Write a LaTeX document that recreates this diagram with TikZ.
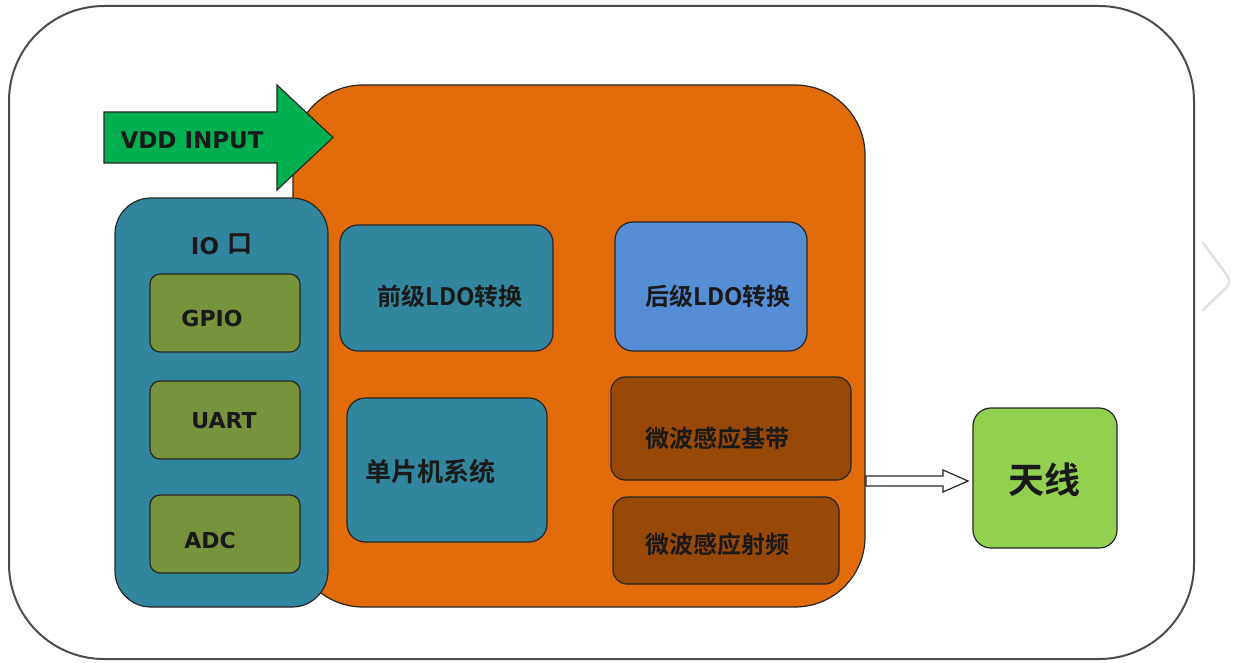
\documentclass[tikz,border=0pt]{standalone}
\usepackage{fontspec}
\setmainfont{Noto Sans CJK SC}[BoldFont={* Bold}]
\newfontfamily\latinbold{DejaVu Sans}
\definecolor{orangeC}{HTML}{E36C0A}
\definecolor{tealC}{HTML}{31859C}
\definecolor{oliveC}{HTML}{77933C}
\definecolor{blueC}{HTML}{558ED5}
\definecolor{brownC}{HTML}{984807}
\definecolor{antC}{HTML}{92D050}
\definecolor{arrowC}{HTML}{00B050}
\tikzset{
  blk/.style={draw=black!85, line width=1.2pt, rounded corners=#1},
  blk/.default=14pt,
  lbl/.style={font=\bfseries\fontsize{24}{26}\selectfont, text=black!90},
  lat/.style={font=\latinbold\bfseries\fontsize{#1}{#1}\selectfont, text=black!90},
}
\begin{document}
\begin{tikzpicture}[x=1pt,y=-1pt]
\useasboundingbox (0,0) rectangle (1241,663);
\fill[white] (0,0) rectangle (1241,663);
% outer frame
\draw[line width=2pt, black!70, rounded corners=95pt] (9,6) rectangle (1194,659);
% chevron
\draw[line width=2.5pt, black!12, line cap=round, rounded corners=8pt] (1203,243) -- (1232,282) -- (1203,310);
% orange main block
\draw[blk=70pt, fill=orangeC] (293,85) rectangle (865,607);
% VDD input arrow
\draw[draw=black!85, line width=1.2pt, fill=arrowC] (104,112) -- (277,112) -- (277,85) -- (333,137.5) -- (277,190) -- (277,163) -- (104,163) -- cycle;
\node[lat=23, anchor=west] (vddt) at (117,140) {VDD INPUT};
% IO block
\draw[blk=36pt, fill=tealC] (115,198) rectangle (328,607);
\node[lat=23] (io) at (205,246) {IO};
\node[lbl, font=\bfseries\fontsize{25}{27}\selectfont] (kou) at (240,244) {口};
\draw[blk=10pt, fill=oliveC] (150,274) rectangle (300,352);
\node[lat=22] (gpio) at (212,318) {GPIO};
\draw[blk=10pt, fill=oliveC] (150,381) rectangle (300,459);
\node[lat=22] (uart) at (224,421) {UART};
\draw[blk=10pt, fill=oliveC] (150,495) rectangle (300,573);
\node[lat=22] (adc) at (210,540) {ADC};
% inner blocks
\draw[blk=18pt, fill=tealC] (340,225) rectangle (553,351);
\node[lbl] (pre) at (450,296) {前级LDO转换};
\draw[blk=18pt, fill=blueC] (615,222) rectangle (807,351);
\node[lbl] (post) at (718,296) {后级LDO转换};
\draw[blk=18pt, fill=tealC] (347,398) rectangle (547,542);
\node[lbl, font=\bfseries\fontsize{26}{28}\selectfont] (mcu) at (430,472) {单片机系统};
\draw[blk=14pt, fill=brownC] (611,377) rectangle (851,480);
\node[lbl] (bb) at (717,438) {微波感应基带};
\draw[blk=14pt, fill=brownC] (613,497) rectangle (839,584);
\node[lbl] (rf) at (717,544) {微波感应射频};
% antenna
\draw[blk=18pt, fill=antC] (973,408) rectangle (1117,548);
\node[font=\bfseries\fontsize{36}{40}\selectfont, text=black!90] (ant) at (1044,480) {天线};
% hollow arrow
\draw[draw=black!85, line width=1.2pt, fill=white] (866,476) -- (943,476) -- (943,470) -- (968,481) -- (943,492) -- (943,486) -- (866,486) -- cycle;
\end{tikzpicture}
\end{document}
